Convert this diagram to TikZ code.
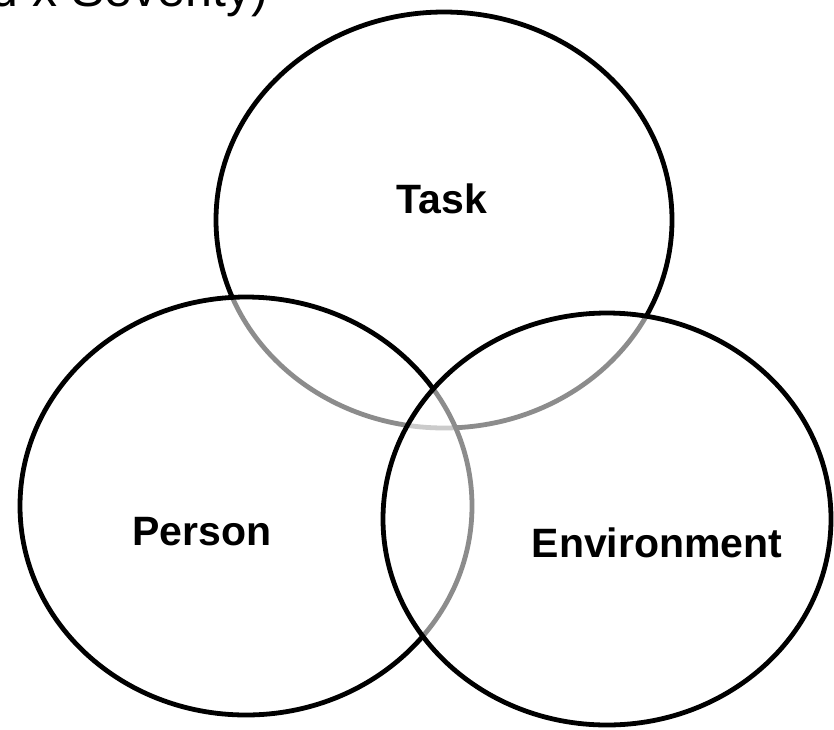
\documentclass[tikz,border=0pt]{standalone}
\usepackage{fontspec}
\setmainfont{Liberation Sans}
\usetikzlibrary{shapes.geometric}
\tikzstyle{factor} = [ellipse, draw=black, line width=2.4pt, inner sep=0pt, fill=white, fill opacity=0.55]
\tikzstyle{label} = [font=\fontsize{20.5}{24}\selectfont\bfseries, inner sep=0pt, anchor=base]
\tikzstyle{heading} = [font=\fontsize{25}{30}\selectfont, inner sep=0pt, anchor=base east]

\begin{document}
\begin{tikzpicture}[x=0.5pt, y=-0.5pt]

    \useasboundingbox (0,0) rectangle (834,729);

    \node (title) [heading] at (269, 6) {d x Severity)};

    \node (task) [factor, minimum width=228pt, minimum height=208pt] at (444, 220) {};
    \node (person) [factor, minimum width=226pt, minimum height=209pt] at (246, 506) {};
    \node (environment) [factor, minimum width=224pt, minimum height=206pt] at (607, 519) {};

    \node (tasklabel) [label] at (442, 213) {Task};
    \node (personlabel) [label] at (202, 545) {Person};
    \node (environmentlabel) [label] at (657, 557) {Environment};

\end{tikzpicture}
\end{document}
